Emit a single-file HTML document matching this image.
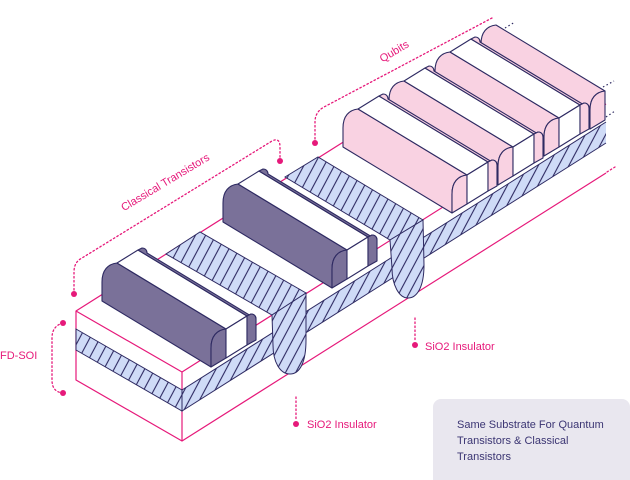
<!DOCTYPE html>
<html><head><meta charset="utf-8"><style>
html,body{margin:0;padding:0;background:#fff;}
svg{display:block;}
text{font-family:"Liberation Sans",sans-serif;}
</style></head><body>
<svg width="630" height="480" viewBox="0 0 630 480" xmlns="http://www.w3.org/2000/svg">
<defs>
<pattern id="h" width="9" height="9" patternUnits="userSpaceOnUse" patternTransform="rotate(28)">
<rect width="9" height="9" fill="#cfdbf7"/>
<line x1="4" y1="0" x2="4" y2="9" stroke="#2e2a62" stroke-width="1.1"/>
</pattern>
<g id="gbody">
<path d="M102,301 L102,282 C102,270 108,264 117,263 L226,329 C217,330 211,336 211,348 L211,367 Z"/>
<path d="M211,367 L211,348 C211,336 217,330 226,329 L226,358 Z"/>
</g>
<g id="gfull">
<use href="#gbody"/>
<path d="M117,263 L138,250 L247,316 L226,329 Z" fill="#fff"/>
<path d="M226,329 L247,316 L247,345 L226,358 Z" fill="#fff"/>
<path d="M138,250 L142,248 C145,248 147,250 147,253 L256,319 C256,316 254,314 251,314 L247,316 Z"/>
<path d="M247,316 L251,314 C254,314 256,316 256,319 L256,340 L247,345 Z"/>
</g>
</defs>

<!-- substrate fills -->
<g stroke="none">
<polygon points="76,311 182,372 182,441 76,380" fill="#fff"/>
<polygon points="182,372 606,104 606,173 182,441" fill="#fff"/>
<polygon points="76,311 500,43 606,104 182,372" fill="#fff"/>
</g>
<g stroke="#e6197a" stroke-width="1.2" fill="none" stroke-linejoin="round">
<path d="M500,43 L76,311 L76,380 L182,441 L606,173"/>
<path d="M76,311 L182,372 L606,104"/>
<path d="M182,372 L182,441"/>
</g>
<g stroke="#2e2a62" stroke-width="1">
<polygon points="76,329 182,390 182,411 76,350" fill="url(#h)"/>
<path d="M606,122 L182,390 L182,411 L606,143" fill="url(#h)"/>
<!-- trenches -->
<polygon points="166,254 200,232 306,293 272,315" fill="url(#h)"/>
<polygon points="285,177 318,157 423,220 390,240" fill="url(#h)"/>
<path d="M272,315 L306,293 L306,340 C306,362 300,374 290,374 C280,374 273,362 273,345 Z" fill="url(#h)"/>
<path d="M390,240 L423,220 L424,265 C424,287 417,298 408,298 C399,298 392,285 392,268 Z" fill="url(#h)"/>
</g>

<!-- gates -->
<g stroke="#2e2a62" stroke-width="1.1" stroke-linejoin="round">
<g transform="translate(379,-238)" fill="#f9d2e2"><use href="#gbody"/></g>
<g fill="#f9d2e2">
<g transform="translate(333,-211)"><use href="#gfull"/></g>
<g transform="translate(287,-182)"><use href="#gfull"/></g>
<g transform="translate(241,-154)"><use href="#gfull"/></g>
</g>
<g fill="#7a7199">
<g transform="translate(121,-79)"><use href="#gfull"/></g>
<use href="#gfull"/>
</g>
</g>

<!-- dotted continuations -->
<g stroke="#2e2a62" stroke-width="1.2" stroke-dasharray="1.5 2.5" fill="none">
<line x1="505" y1="28" x2="515" y2="22"/>
<line x1="603" y1="87" x2="614" y2="81"/>
<line x1="606" y1="117" x2="615" y2="111"/>
</g>
<g stroke="#e6197a" stroke-width="1.3" stroke-dasharray="1.5 2.5" fill="none" stroke-linecap="round">
<line x1="607" y1="172" x2="615" y2="167"/>
<path d="M74,294 L74,272 Q74,262 82,258 L272,141 Q280,137 280,147 L280,160"/>
<path d="M315,143 L315,122 Q315,112 324,107 L492,18"/>
<path d="M63,323 Q52,326 52,338 L52,380 Q52,392 63,393"/>
<line x1="296" y1="397" x2="296" y2="419"/>
<line x1="415" y1="318" x2="415" y2="340"/>
</g>
<g fill="#e6197a">
<circle cx="74" cy="294" r="3"/>
<circle cx="280" cy="161" r="3"/>
<circle cx="315" cy="143" r="3"/>
<circle cx="63" cy="323" r="3"/>
<circle cx="63" cy="393" r="3"/>
<circle cx="296" cy="424" r="3"/>
<circle cx="415" cy="345" r="3"/>
</g>
<g fill="#e6197a" font-size="11">
<text x="165" y="186" text-anchor="middle" transform="rotate(-31 165 182)">Classical Transistors</text>
<text x="394" y="55" text-anchor="middle" transform="rotate(-31 394 51)">Qubits</text>
<text x="0" y="359">FD-SOI</text>
<text x="307" y="428">SiO2 Insulator</text>
<text x="425" y="350">SiO2 Insulator</text>
</g>

<rect x="433" y="399" width="197" height="90" rx="8" fill="#e9e7ef"/>
<g fill="#3b3573" font-size="11">
<text x="457" y="428">Same Substrate For Quantum</text>
<text x="457" y="444">Transistors &amp; Classical</text>
<text x="457" y="460">Transistors</text>
</g>
</svg>
</body></html>
